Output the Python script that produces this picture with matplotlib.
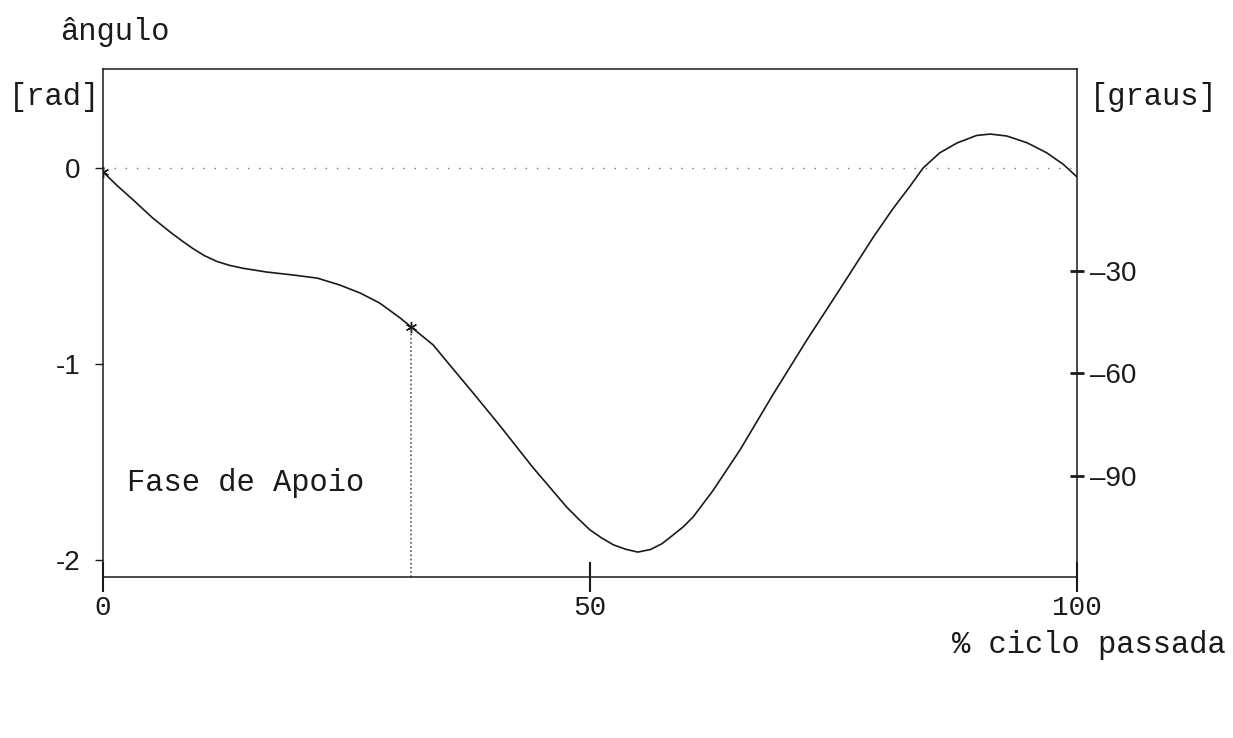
import numpy as np
import matplotlib
matplotlib.use("Agg")
import matplotlib.pyplot as plt

# knee angle over the gait cycle (rad), read at these % of the stride
cycle_pct = [0, 1.5, 3.1, 5.1, 6.9, 8.2, 9.2, 10.4, 11.7, 13.0, 14.4, 16.8,
             19.5, 22.0, 24.3, 26.4, 28.4, 30.5, 31.6, 33.9, 35.6, 38.0,
             40.8, 44.1, 47.6, 48.8, 50.0, 51.2, 52.4, 53.7, 54.9, 56.2,
             57.4, 58.5, 59.6, 60.6, 62.6, 65.4, 68.8, 72.3, 75.7, 79.1,
             81.1, 82.9, 84.2, 85.9, 87.7, 89.7, 91.1, 92.8, 94.9, 96.9,
             98.6, 100]
angle_rad = [-0.02, -0.092, -0.163, -0.255, -0.327, -0.375, -0.41, -0.447,
             -0.477, -0.497, -0.512, -0.531, -0.546, -0.562, -0.597, -0.638,
             -0.689, -0.765, -0.81, -0.903, -1.005, -1.148, -1.318, -1.526,
             -1.73, -1.79, -1.847, -1.888, -1.923, -1.946, -1.96, -1.947,
             -1.917, -1.874, -1.83, -1.78, -1.648, -1.439, -1.155, -0.875,
             -0.615, -0.352, -0.208, -0.09, 0.0, 0.077, 0.128, 0.166, 0.173,
             0.163, 0.128, 0.077, 0.018, -0.046]

# end of stance phase
stance_end = 31.6
stance_angle = -0.81

rad_ticks = [0, -1, -2]
deg_ticks = [-30, -60, -90]
x_ticks = [0, 50, 100]

mono = "Liberation Mono"
sans = "Liberation Sans"
ink = "#1a1a1a"

fig = plt.figure(figsize=(12.33, 7.38), dpi=100)
ax = fig.add_axes([0.0835, 0.2182, 0.79, 0.6883])

ax.plot(cycle_pct, angle_rad, color=ink, lw=1.2,
        solid_joinstyle="round", solid_capstyle="round")
ax.plot([0, stance_end], [angle_rad[0], stance_angle], ls="none",
        marker=(6, 2, 0), ms=8, color=ink, mew=1)

ymin, ymax = -2.087, 0.505
ax.axhline(0, color="#777777", lw=1, ls=(0, (1, 7)))
ax.vlines(stance_end, ymin, stance_angle, color="#555555", lw=1.2, ls=(0, (1, 1.5)))

ax.set_xlim(0, 100)
ax.set_ylim(ymin, ymax)

for s in ax.spines.values():
    s.set_color(ink)
    s.set_linewidth(1.1)

ax.set_xticks(x_ticks)
ax.set_xticklabels([str(v) for v in x_ticks], fontfamily=mono, fontsize=20)
ax.tick_params(axis="x", direction="inout", length=22, width=1.5, pad=2, colors=ink)

ax.set_yticks(rad_ticks)
ax.set_yticklabels(["0", "-1", "-2"], fontfamily=sans, fontsize=20)
ax.tick_params(axis="y", direction="out", length=6, width=1, pad=10, colors=ink)

sec = ax.secondary_yaxis("right", functions=(np.degrees, np.radians))
sec.set_yticks(deg_ticks)
sec.set_yticklabels([str(v).replace("-", "\u2013") for v in deg_ticks],
                    fontfamily=sans, fontsize=20)
sec.tick_params(direction="inout", length=10, width=2, pad=4, colors=ink)
sec.spines["right"].set_visible(False)

fig.text(60 / 1233, 1 - 32 / 738, "ângulo", fontfamily=mono, fontsize=22,
         ha="left", va="center", color=ink)
fig.text(100 / 1233, 1 - 97 / 738, "[rad]", fontfamily=mono, fontsize=22,
         ha="right", va="center", color=ink)
fig.text(1090 / 1233, 1 - 97 / 738, "[graus]", fontfamily=mono, fontsize=22,
         ha="left", va="center", color=ink)
fig.text(1226 / 1233, 1 - 645 / 738, "% ciclo passada", fontfamily=mono,
         fontsize=22, ha="right", va="center", color=ink)
ax.text(2.5, -1.61, "Fase de Apoio", fontfamily=mono, fontsize=22,
        ha="left", va="center", color=ink)

fig.savefig("out.png", dpi=100)
